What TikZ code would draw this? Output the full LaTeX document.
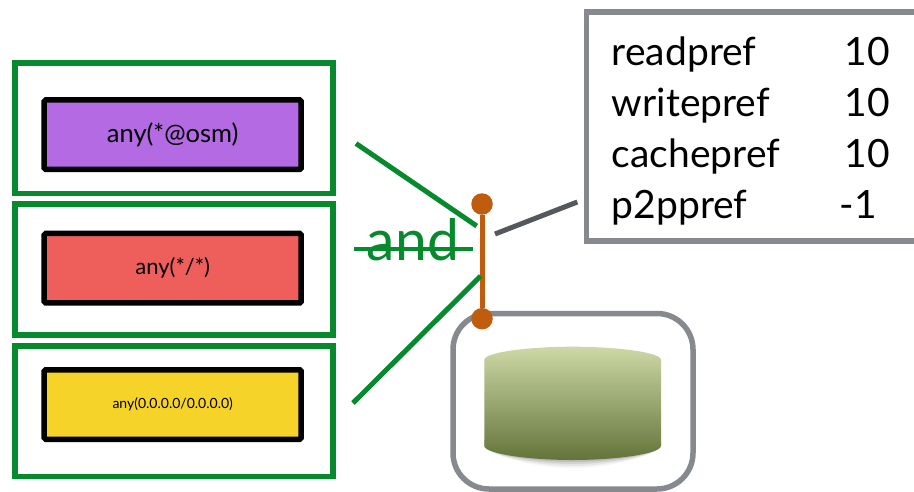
\documentclass[tikz,border=0pt]{standalone}
\usepackage{fontspec}
\setmainfont{Lato}
\definecolor{grn}{HTML}{078A2E}
\definecolor{org}{HTML}{BF5C0D}
\definecolor{gry}{HTML}{868A8E}
\definecolor{dgry}{HTML}{54585D}
\definecolor{pur}{HTML}{B36AE2}
\definecolor{rd}{HTML}{EE5F5B}
\definecolor{yel}{HTML}{F5D328}
\definecolor{cylA}{HTML}{CDD8A6}
\definecolor{cylB}{HTML}{63743A}
\tikzset{
  outerbox/.style={draw=grn,line width=5.5pt,minimum width=318pt,inner sep=0pt},
  matchbox/.style={draw=black,line width=5.5pt,rounded corners=1.5pt,minimum width=257pt,minimum height=69.5pt,inner sep=0pt},
  greenline/.style={draw=grn,line width=5pt},
  orangedot/.style={circle,fill=org,minimum size=21.5pt,inner sep=0pt},
  tabletext/.style={font=\fontsize{39}{39}\selectfont,anchor=base west,inner sep=0pt},
  tablenum/.style={font=\fontsize{39}{39}\selectfont,anchor=base east,inner sep=0pt}
}
\begin{document}
\begin{tikzpicture}[x=1pt,y=-1pt]
\clip[use as bounding box] (0,0) rectangle (914,491);
\fill[white] (0,0) rectangle (914,491);
% outer green boxes
\node[outerbox,minimum height=130.5pt] (o1) at (174,128.25) {};
\node[outerbox,minimum height=131pt] (o2) at (174,269.5) {};
\node[outerbox,minimum height=130.5pt] (o3) at (174,411.25) {};
% inner filter boxes
\node[matchbox,fill=pur,font=\fontsize{25.5}{26}\selectfont] (m1) at (172.7,134.7) {any(*@osm)};
\node[matchbox,fill=rd,font=\fontsize{22}{22}\selectfont] (m2) at (172.7,268.2) {any(*/*)};
\node[matchbox,fill=yel,font=\fontsize{14}{14}\selectfont] (m3) at (172.7,404.5) {any(0.0.0.0/0.0.0.0)};
% storage box
\draw[gry,line width=5.5pt,rounded corners=36pt] (453,313.5) rectangle (693,489) coordinate (storecorner);
% database cylinder with soft shadow
\foreach \s/\o in {8/.04,6/.06,4/.08,2/.1}{
  \fill[black,opacity=\o] (484.3,440) -- (484.3,445.7) .. controls (484.3,453) and (530,460+\s) .. (572.6,460+\s) .. controls (615,460+\s) and (661,453) .. (661,445.7) -- (661,440) -- cycle;
}
\path[top color=cylA,bottom color=cylB] (484.3,360) .. controls (484.3,352) and (530,346.7) .. (572.6,346.7) .. controls (615,346.7) and (661,352) .. (661,360) -- (661,445.7) .. controls (661,454) and (615,460) .. (572.6,460) .. controls (530,460) and (484.3,454) .. (484.3,445.7) -- cycle;
% orange connector
\node[orangedot] (dtop) at (482,204) {};
\node[orangedot] (dbot) at (482,318.7) {};
\draw[org,line width=5pt] (dtop) -- (dbot);
% green connector lines
\coordinate (g1a) at (356,143.5);
\coordinate (g1b) at (476.7,226);
\coordinate (g2a) at (354,249.3);
\coordinate (g2b) at (473.3,249.3);
\coordinate (g3a) at (353,403);
\coordinate (g3b) at (480.7,276);
\draw[greenline] (g1a) -- (g1b);
\draw[greenline,line width=4pt] (g2a) -- (g2b);
\draw[greenline] (g3a) -- (g3b);
\node[text=grn,font=\fontsize{57}{57}\selectfont,anchor=base,inner sep=0pt] (andlbl) at (413,260.7) {and};
% table box
\node[draw=gry,line width=5.5pt,outer sep=0pt,anchor=north west,minimum width=360pt,minimum height=229pt,inner sep=0pt] (tbl) at (586.5,12) {};
\coordinate (ga) at (495,234);
\coordinate (gb) at (577.3,202);
\draw[dgry,line width=5pt] (ga) -- (gb);
\node[tabletext] (r1) at (611.7,65) {readpref};
\node[tabletext] (r2) at (611.7,116.7) {writepref};
\node[tabletext] (r3) at (611.7,167.7) {cachepref};
\node[tabletext] (r4) at (611.7,218) {p2ppref};
\node[tablenum] (v1) at (890,65) {10};
\node[tablenum] (v2) at (890,116.7) {10};
\node[tablenum] (v3) at (890,167.7) {10};
\node[tablenum] (v4) at (877,218) {-1};
\end{tikzpicture}
\end{document}
